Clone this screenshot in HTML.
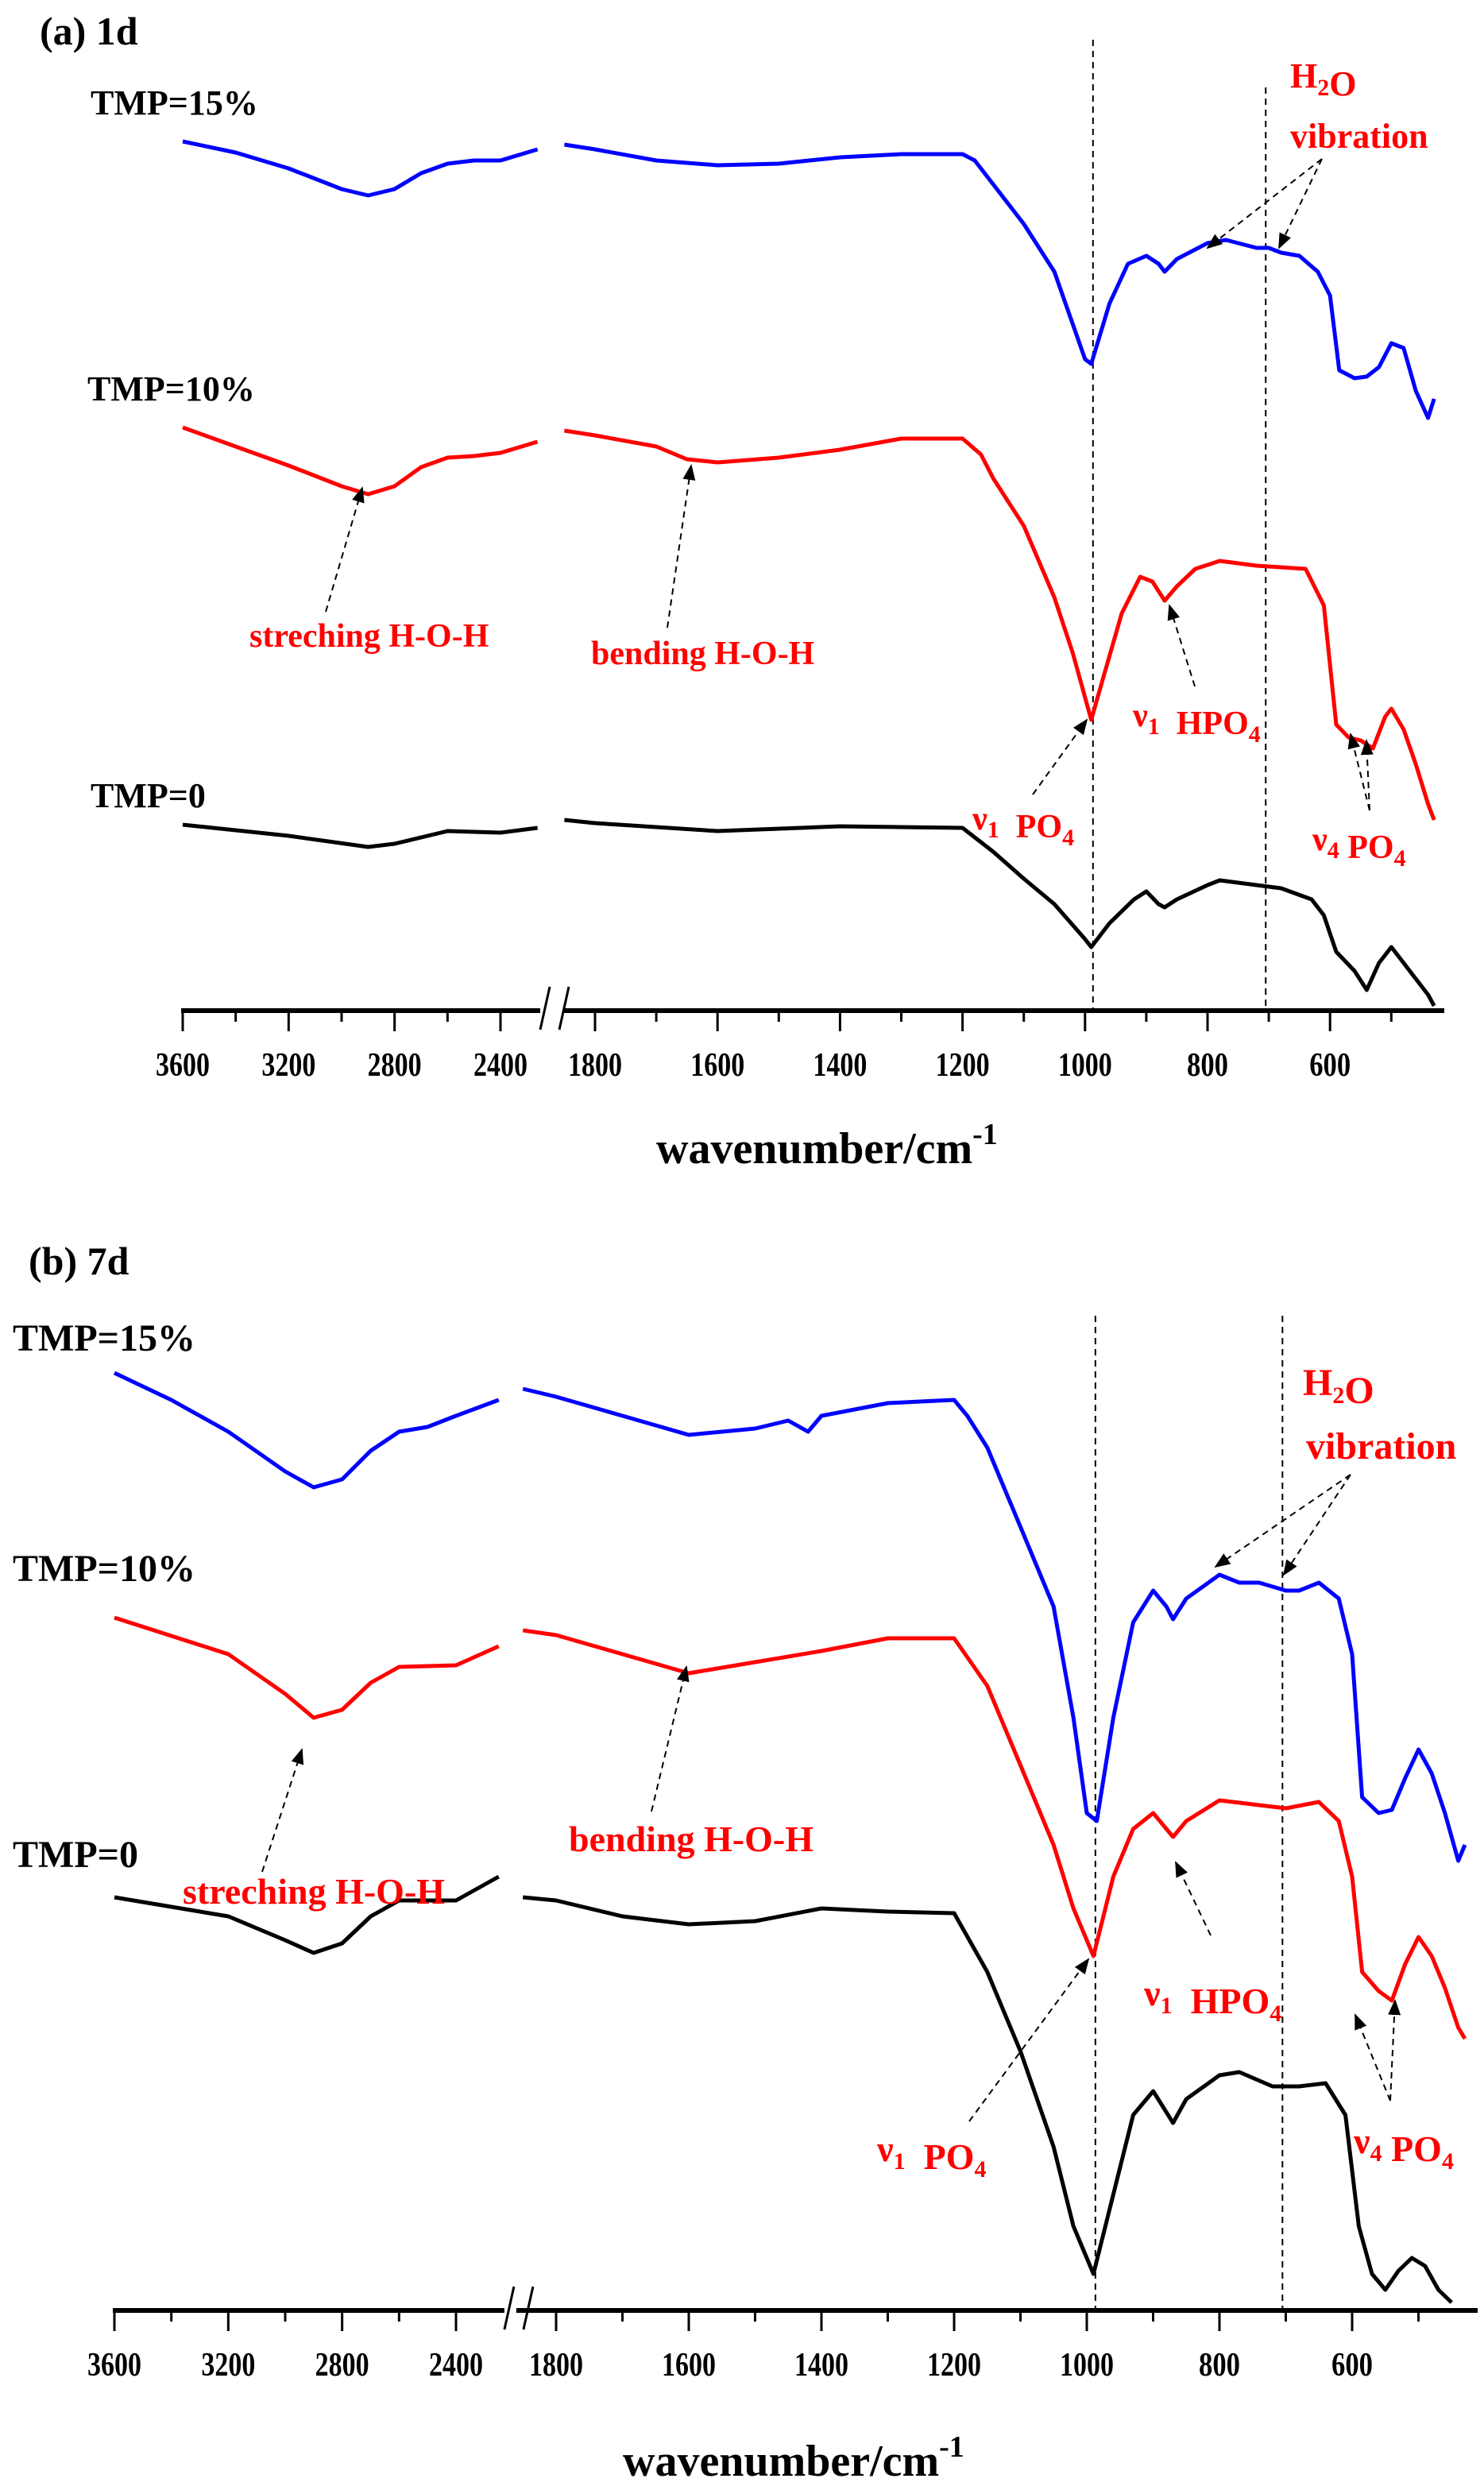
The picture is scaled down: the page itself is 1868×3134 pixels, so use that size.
<!DOCTYPE html>
<html><head><meta charset="utf-8">
<style>
html,body{margin:0;padding:0;background:#fff;}
svg{display:block;}
text{font-family:"Liberation Serif",serif;font-weight:bold;}
</style></head>
<body>
<svg id="chart" width="1868" height="3134" viewBox="0 0 934 1567" xmlns="http://www.w3.org/2000/svg">
<g id="layer"></g>
</svg>
<script>
// Panel (a) 1d data: wavenumbers + intensities (a.u.)
const aBlueLeftWn=[3600,3400,3200,3000,2900,2800,2700,2600,2500,2400,2260];
const aBlueLeftV=[54.7,54.0,53.0,51.7,51.3,51.7,52.7,53.3,53.5,53.5,54.2];
const aBlueRightWn=[1850,1800,1700,1600,1500,1450,1400,1300,1200,1180,1150,1100,1050,1000,990,960,930,900,880,870,850,800,770,720,700,680,650,620,600,585,560,540,520,500,480,460,440,430];
const aBlueRightV=[54.5,54.2,53.5,53.2,53.3,53.5,53.7,53.9,53.9,53.5,52.0,49.5,46.5,41.0,40.7,44.5,47.0,47.5,47.0,46.5,47.3,48.3,48.5,48.0,48.0,47.7,47.5,46.5,45.0,40.3,39.8,39.9,40.5,42.0,41.7,39.0,37.3,38.5];
const aRedLeftWn=[3600,3400,3200,3000,2900,2800,2700,2600,2500,2400,2260];
const aRedLeftV=[36.7,35.5,34.3,33.0,32.5,33.0,34.2,34.8,34.9,35.1,35.8];
const aRedRightWn=[1850,1800,1700,1650,1600,1500,1400,1300,1200,1170,1150,1100,1050,1020,990,970,940,910,890,870,850,820,780,720,680,640,610,590,570,550,530,510,500,480,460,440,430];
const aRedRightV=[36.5,36.2,35.5,34.7,34.5,34.8,35.3,36.0,36.0,35.0,33.5,30.5,26.0,22.5,18.3,21.0,25.0,27.3,27.0,25.8,26.7,27.8,28.3,28.0,27.9,27.8,25.5,18.0,17.2,17.0,16.5,18.5,19.0,17.7,15.5,13.0,12.0];
const aBlackLeftWn=[3600,3200,2900,2800,2600,2400,2260];
const aBlackLeftV=[11.7,11.0,10.3,10.5,11.3,11.2,11.5];
const aBlackRightWn=[1850,1800,1600,1400,1200,1150,1100,1050,1000,990,960,920,900,880,870,850,800,780,720,680,630,610,590,560,540,520,500,480,460,440,430];
const aBlackRightV=[12.0,11.8,11.3,11.6,11.5,10.0,8.3,6.7,4.5,4.0,5.5,7.0,7.5,6.7,6.5,7.0,7.9,8.2,7.9,7.7,7.0,6.0,3.7,2.5,1.3,3.0,4.0,3.0,2.0,1.0,0.3];
// Panel (b) 7d data
const bBlueLeftWn=[3600,3400,3200,3000,2900,2800,2700,2600,2500,2400,2250];
const bBlueLeftV=[59.0,57.3,55.3,52.8,51.8,52.3,54.1,55.3,55.6,56.3,57.3];
const bBlueRightWn=[1850,1800,1700,1600,1500,1450,1420,1400,1300,1200,1180,1150,1100,1050,1020,1000,985,960,930,900,880,870,850,800,770,740,700,680,650,620,600,585,560,540,520,500,480,460,440,430];
const bBlueRightV=[58.0,57.5,56.3,55.1,55.5,56.0,55.3,56.3,57.1,57.3,56.3,54.3,49.3,44.3,37.3,31.3,30.8,37.3,43.3,45.3,44.3,43.5,44.8,46.3,45.8,45.8,45.3,45.3,45.8,44.8,41.3,32.3,31.3,31.5,33.5,35.3,33.8,31.3,28.3,29.3];
const bRedLeftWn=[3600,3200,3000,2900,2800,2700,2600,2400,2250];
const bRedLeftV=[43.6,41.3,38.8,37.3,37.8,39.5,40.5,40.6,41.8];
const bRedRightWn=[1850,1800,1700,1600,1500,1400,1300,1200,1150,1100,1050,1020,990,960,930,900,870,850,800,740,700,650,620,600,585,560,540,520,500,480,460,440,430];
const bRedRightV=[42.8,42.5,41.3,40.1,40.8,41.5,42.3,42.3,39.3,34.3,29.3,25.3,22.3,27.3,30.3,31.3,29.8,30.8,32.1,31.8,31.6,32.0,30.8,27.3,21.3,20.1,19.5,21.8,23.5,22.3,20.3,17.8,17.1];
const bBlackLeftWn=[3600,3200,3000,2900,2800,2700,2600,2400,2250];
const bBlackLeftV=[26.0,24.8,23.3,22.5,23.1,24.8,25.8,25.8,27.3];
const bBlackRightWn=[1850,1800,1700,1600,1500,1400,1300,1200,1150,1100,1050,1020,990,960,930,900,870,850,800,770,720,680,640,610,590,570,550,530,510,490,470,450];
const bBlackRightV=[26.0,25.8,24.8,24.3,24.5,25.3,25.1,25.0,21.3,16.3,10.3,5.3,2.3,7.3,12.3,13.8,11.8,13.3,14.8,15.0,14.1,14.1,14.3,12.3,5.3,2.3,1.3,2.5,3.3,2.8,1.3,0.5];
// Tick labels
const leftTicks=[3600,3200,2800,2400];
const rightTicks=[1800,1600,1400,1200,1000,800,600];
const dashedWn=[987,705];

const NS="http://www.w3.org/2000/svg";
const layer=document.getElementById('layer');
function mk(tag,attrs){const e=document.createElementNS(NS,tag);for(const k in attrs)e.setAttribute(k,attrs[k]);layer.appendChild(e);return e;}

const panels=[
 {id:'a',axisY:636,lx0:115,lpx:200/1200,lEndWn:2250,rx0:374.5,rpx:0.3855,rStartWn:1850,rEnd:909,dashTop:[25,55],
  series:[[aBlueLeftWn,aBlueLeftV,aBlueRightWn,aBlueRightV,'#0000ff','tmp15'],[aRedLeftWn,aRedLeftV,aRedRightWn,aRedRightV,'#ff0000','tmp10'],[aBlackLeftWn,aBlackLeftV,aBlackRightWn,aBlackRightV,'#000000','tmp0']]},
 {id:'b',axisY:1454,lx0:72,lpx:215/1200,lEndWn:2230,rx0:350,rpx:0.4175,rStartWn:1860,rEnd:930,dashTop:[828,828],
  series:[[bBlueLeftWn,bBlueLeftV,bBlueRightWn,bBlueRightV,'#0000ff','tmp15'],[bRedLeftWn,bRedLeftV,bRedRightWn,bRedRightV,'#ff0000','tmp10'],[bBlackLeftWn,bBlackLeftV,bBlackRightWn,bBlackRightV,'#000000','tmp0']]}
];

panels.forEach(p=>{
  const xL=w=>p.lx0+(3600-w)*p.lpx;
  const xR=w=>p.rx0+(1800-w)*p.rpx;
  const y=v=>p.axisY-v*10;
  const leftEnd=xL(p.lEndWn);
  let e=mk('line',{x1:xL(3600)-1,y1:p.axisY,x2:leftEnd,y2:p.axisY,stroke:'#000','stroke-width':3});
  
  
  const rStart=xR(p.rStartWn);
  e=mk('line',{x1:rStart,y1:p.axisY,x2:p.rEnd,y2:p.axisY,stroke:'#000','stroke-width':3});
  
  
  [0,12].forEach(o=>{
    e=mk('line',{x1:leftEnd+o,y1:p.axisY+12,x2:leftEnd+o+6,y2:p.axisY-15,stroke:'#000','stroke-width':1.5});
    
    
  });
  for(let w=3600;w>=2400;w-=200){
    const maj=(w%400===0);
    e=mk('line',{x1:xL(w),y1:p.axisY,x2:xL(w),y2:p.axisY+(maj?13:7),stroke:'#000','stroke-width':1.5});
    
    
  }
  for(let w=1800;w>=500;w-=100){
    const maj=(w%200===0);
    e=mk('line',{x1:xR(w),y1:p.axisY,x2:xR(w),y2:p.axisY+(maj?13:7),stroke:'#000','stroke-width':1.5});
    
    
  }
  leftTicks.forEach(t=>{
    e=mk('text',{x:xL(t),y:p.axisY+41,'text-anchor':'middle','font-size':21,textLength:34,lengthAdjust:'spacingAndGlyphs'});
    e.textContent=t;
    
    
  });
  rightTicks.forEach(t=>{
    e=mk('text',{x:xR(t),y:p.axisY+41,'text-anchor':'middle','font-size':21,textLength:t>=1000?34:26,lengthAdjust:'spacingAndGlyphs'});
    e.textContent=t;
    
    
  });
  e=mk('text',{x:p.id==='a'?413:392,y:p.axisY+(p.id==='a'?96:104),'font-size':28});
  e.innerHTML='wavenumber/cm<tspan dy="-12" font-size="19">-1</tspan>';
  
  
  dashedWn.forEach((w,i)=>{
    e=mk('line',{x1:xR(w),y1:p.dashTop[i],x2:xR(w),y2:p.axisY,stroke:'#000','stroke-width':1,'stroke-dasharray':'4,3'});
    
    
  });
  p.series.forEach(s=>{
    const [lw,lv,rw,rv,col,nm]=s;
    let d=lw.map((w,i)=>(i?'L':'M')+xL(w).toFixed(1)+','+y(lv[i]).toFixed(1)).join('');
    e=mk('path',{d:d,fill:'none',stroke:col,'stroke-width':2.5,'stroke-linejoin':'round'});
    
    
    d=rw.map((w,i)=>(i?'L':'M')+xR(w).toFixed(1)+','+y(rv[i]).toFixed(1)).join('');
    e=mk('path',{d:d,fill:'none',stroke:col,'stroke-width':2.5,'stroke-linejoin':'round'});
    
    
  });
});

const defs=document.createElementNS(NS,'defs');
defs.innerHTML='<marker id="ah" markerWidth="10" markerHeight="8" refX="9" refY="4" orient="auto" markerUnits="userSpaceOnUse"><path d="M0,0 L10,4 L0,8 z" fill="#000"/></marker>';
document.getElementById('chart').insertBefore(defs,layer);

function txt(x,yy,html,size,col,name){
  const e=mk('text',{x:x,y:yy,'font-size':size,fill:col});
  e.innerHTML=html;
  
  
}
function arr(x1,y1,x2,y2){
  const e=mk('line',{x1:x1,y1:y1,x2:x2,y2:y2,stroke:'#000','stroke-width':1,'stroke-dasharray':'4,3','marker-end':'url(#ah)'});
  
  
}
const sub=s=>'<tspan dy="5" font-size="15">'+s+'</tspan><tspan dy="-5"></tspan>';
txt(25,28,'(a) 1d',25,'#000','panel-a-title');
txt(57,72,'TMP=15%',22,'#000','label-tmp15-a');
txt(55,252,'TMP=10%',22,'#000','label-tmp10-a');
txt(57,508,'TMP=0',22,'#000','label-tmp0-a');
txt(812,55,'H'+sub('2')+'O',22,'#ff0000','label-h2o-a');
txt(812,93,'vibration',22,'#ff0000','label-vibration-a');
arr(832,100,760,156);arr(832,100,805,156);
txt(157,407,'streching H-O-H',21,'#ff0000','label-stretching-a');
arr(205,385,228,307);
txt(372,418,'bending H-O-H',21,'#ff0000','label-bending-a');
arr(420,395,435,293);
txt(713,457,'&#957;'+sub('1')+'&#160; HPO'+sub('4'),21,'#ff0000','label-hpo4-a');
arr(752,432,736,381);
txt(612,522,'&#957;'+sub('1')+'&#160; PO'+sub('4'),21,'#ff0000','label-po4-a');
arr(650,500,684,453);
txt(826,535,'&#957;'+sub('4')+' PO'+sub('4'),21,'#ff0000','label-v4po4-a');
arr(862,510,850,462);arr(862,510,860,466);
txt(18,802,'(b) 7d',25,'#000','panel-b-title');
txt(8,850,'TMP=15%',24,'#000','label-tmp15-b');
txt(8,995,'TMP=10%',24,'#000','label-tmp10-b');
txt(8,1175,'TMP=0',24,'#000','label-tmp0-b');
txt(820,878,'H'+sub('2')+'O',24,'#ff0000','label-h2o-b');
txt(822,918,'vibration',24,'#ff0000','label-vibration-b');
arr(850,928,765,986);arr(850,928,808,991);
txt(115,1198,'streching H-O-H',23,'#ff0000','label-stretching-b');
arr(165,1178,190,1101);
txt(358,1165,'bending H-O-H',23,'#ff0000','label-bending-b');
arr(410,1140,432,1049);
txt(720,1262,'&#957;'+sub('1')+'&#160; HPO'+sub('4'),23,'#ff0000','label-hpo4-b');
arr(762,1218,740,1172);
txt(552,1360,'&#957;'+sub('1')+'&#160; PO'+sub('4'),23,'#ff0000','label-po4-b');
arr(610,1335,685,1233);
txt(852,1355,'&#957;'+sub('4')+' PO'+sub('4'),23,'#ff0000','label-v4po4-b');
arr(875,1322,853,1268);arr(875,1322,878,1259);
</script>
</body></html>
